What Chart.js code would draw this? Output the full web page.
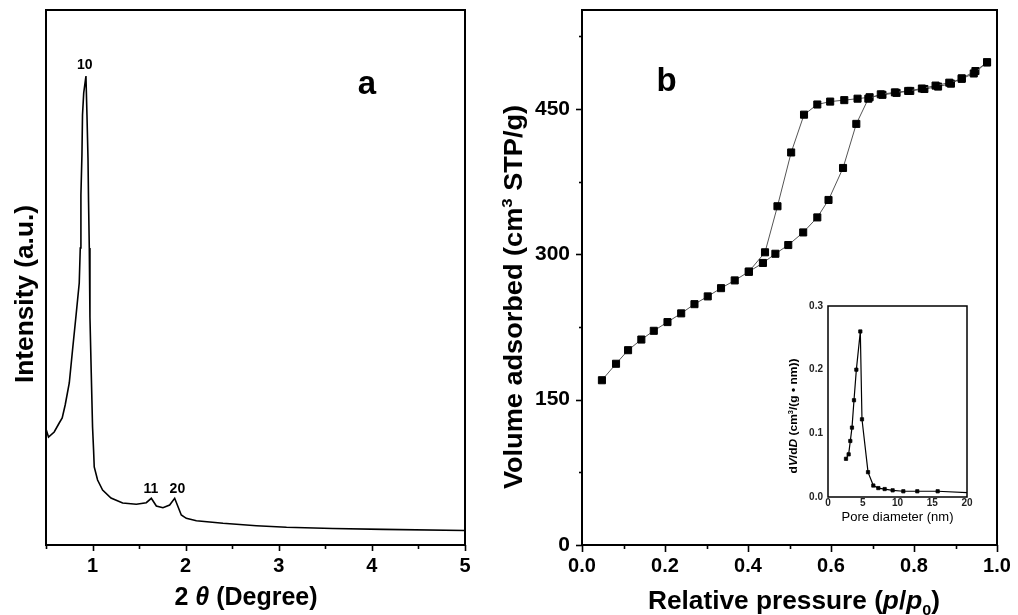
<!DOCTYPE html>
<html>
<head>
<meta charset="utf-8">
<script src="https://cdn.jsdelivr.net/npm/chart.js@4.4.0/dist/chart.umd.min.js"></script>
<style>
  html, body { margin: 0; padding: 0; background: #fff; }
  body { width: 1018px; height: 615px; position: relative; overflow: hidden; }
  .panel { position: absolute; }
  #boxA { left: 0; top: 0; width: 490px; height: 615px; }
  #boxB { left: 490px; top: 0; width: 528px; height: 615px; }
  #boxInset { left: 760px; top: 290px; width: 250px; height: 240px; }
</style>
</head>
<body>
<div class="panel" id="boxA"><canvas id="chartA" width="490" height="615"></canvas></div>
<div class="panel" id="boxB"><canvas id="chartB" width="528" height="615"></canvas></div>
<div class="panel" id="boxInset"><canvas id="chartInset" width="250" height="240"></canvas></div>
<script>
// ---- data ----

// (a) small-angle XRD
const xrdAngle = [0.5, 0.527, 0.588, 0.642, 0.674, 0.706, 0.75, 0.785, 0.821, 0.857, 0.868, 0.875, 0.886, 0.892, 0.905, 0.929,
  0.94, 0.951, 0.957, 0.965, 0.972, 0.986, 1.0, 1.011, 1.018, 1.054, 1.108, 1.198, 1.323, 1.47, 1.577, 1.631, 1.685,
  1.756, 1.828, 1.882, 1.918, 1.953, 2.007, 2.115, 2.401, 2.76, 3.083, 3.58, 4.12, 5.0];
const xrdIntensity = [116, 108, 113, 122, 127, 140, 162, 195, 228, 262, 297, 350, 390, 430, 452, 469,
  430, 387, 343, 297, 228, 172, 118, 95, 78, 65, 55, 47, 42, 40.7, 42.3, 46.7, 39,
  37.3, 40, 46.7, 38.3, 30, 26.7, 24.3, 21.7, 19.3, 17.7, 16.5, 15.6, 14.5];
const xrdPeakLabels = ['10', '11', '20'];
const xrdPeakAngle = [0.916, 1.626, 1.911];
const xrdPeakHeight = [480, 55.5, 55.5];

// (b) N2 isotherm
const adsP = [0.048, 0.082, 0.111, 0.143, 0.173, 0.206, 0.239, 0.271, 0.303, 0.335, 0.368, 0.402, 0.436, 0.466, 0.497,
  0.533, 0.567, 0.594, 0.629, 0.661, 0.690, 0.720, 0.754, 0.786, 0.819, 0.852, 0.885, 0.915, 0.944, 0.976];
const adsV = [170, 187, 201, 212, 221, 230, 239, 248.5, 256.5, 265, 273, 282, 291, 300.5, 309.5,
  322.5, 338, 356, 389, 434.5, 460.5, 465, 467, 468.5, 471, 474, 477, 481, 486.5, 498];
const desP = [0.976, 0.948, 0.915, 0.889, 0.858, 0.825, 0.791, 0.758, 0.724, 0.693, 0.664, 0.632, 0.598, 0.567,
  0.535, 0.504, 0.471, 0.441, 0.402];
const desV = [498, 489, 481.5, 476, 473, 470.5, 468.5, 466.5, 464.5, 462, 460.5, 459, 457.5, 454.5,
  444, 405, 349.5, 302, 282];

// inset: pore size distribution
const poreD = [2.59, 2.97, 3.21, 3.45, 3.74, 4.08, 4.65, 4.89, 5.76, 6.52, 7.24, 8.15, 9.30, 10.84, 12.85, 15.78, 20];
const dVdD = [0.060, 0.067, 0.088, 0.109, 0.152, 0.200, 0.260, 0.122, 0.039, 0.018, 0.014, 0.0125, 0.0105, 0.009, 0.009, 0.009, 0.007];

// ---- helpers ----
const FONT = "'Liberation Sans', Arial, Helvetica, sans-serif";
const toXY = (xs, ys) => xs.map((x, i) => ({ x: x, y: ys[i] }));

function fixSize(prop, size) {
  return function(scale) {
    scale[prop] = size;
    scale.paddingTop = 0; scale.paddingBottom = 0;
    scale.paddingLeft = 0; scale.paddingRight = 0;
  };
}

// frame around the plot area + outward major/minor tick marks
const frameTicks = {
  id: 'frameTicks',
  afterDatasetsDraw(chart, args, opts) {
    const { ctx, chartArea: a } = chart;
    ctx.save();
    ctx.strokeStyle = '#000';
    ctx.lineWidth = opts.width || 2;
    ctx.strokeRect(a.left, a.top, a.right - a.left, a.bottom - a.top);
    ctx.lineWidth = 1.6;
    (opts.axes || []).forEach(ax => {
      const sc = chart.scales[ax.id];
      sc.ticks.forEach(t => {
        const p = Math.round(sc.getPixelForValue(t.value)) + 0.5;
        const len = t.label !== '' ? ax.major : ax.minor;
        ctx.beginPath();
        if (sc.isHorizontal()) { ctx.moveTo(p, a.bottom); ctx.lineTo(p, a.bottom + len); }
        else { ctx.moveTo(a.left, p); ctx.lineTo(a.left - len, p); }
        ctx.stroke();
      });
    });
    ctx.restore();
  }
};

// free text (peak indices, panel letters)
const textMarks = {
  id: 'textMarks',
  afterDatasetsDraw(chart, args, opts) {
    const { ctx, chartArea: a } = chart;
    ctx.save();
    ctx.fillStyle = '#000';
    ctx.textAlign = 'center';
    ctx.textBaseline = 'middle';
    (opts.items || []).forEach(it => {
      ctx.font = it.font;
      let x, y;
      if (it.frac) {
        x = a.left + it.frac[0] * (a.right - a.left);
        y = a.top + it.frac[1] * (a.bottom - a.top);
      } else {
        x = chart.scales.x.getPixelForValue(it.x);
        y = chart.scales.y.getPixelForValue(it.y);
      }
      ctx.fillText(it.text, x, y);
    });
    ctx.restore();
  }
};

// axis titles with italic / superscript / subscript runs
const richTitles = {
  id: 'richTitles',
  afterDraw(chart, args, opts) {
    const ctx = chart.ctx;
    (opts.items || []).forEach(it => {
      const size = it.size;
      const fontOf = r => (r.italic ? 'italic ' : '') + 'bold ' + ((r.sup || r.sub) ? size * 0.62 : size) + 'px ' + FONT;
      ctx.save();
      let total = 0;
      it.runs.forEach(r => { ctx.font = fontOf(r); total += ctx.measureText(r.t).width; });
      ctx.translate(it.x, it.y);
      if (it.rotate) ctx.rotate(it.rotate);
      ctx.scale(it.stretch || 1, 1);
      ctx.fillStyle = '#000';
      ctx.textAlign = 'left';
      ctx.textBaseline = 'alphabetic';
      let cx = -total / 2;
      const base = size * 0.36;
      it.runs.forEach(r => {
        ctx.font = fontOf(r);
        const dy = r.sup ? -size * 0.4 : (r.sub ? size * 0.24 : 0);
        ctx.fillText(r.t, cx, base + dy);
        cx += ctx.measureText(r.t).width;
      });
      ctx.restore();
    });
  }
};

Chart.register(frameTicks, textMarks, richTitles);
Chart.defaults.font.family = FONT;
Chart.defaults.color = '#000';

const tickFont = { family: FONT, size: 20, weight: 'bold' };

// ---- (a) XRD ----
new Chart(document.getElementById('chartA'), {
  type: 'line',
  data: {
    datasets: [{
      data: toXY(xrdAngle, xrdIntensity),
      borderColor: '#000',
      borderWidth: 1.6,
      pointRadius: 0,
      tension: 0
    }]
  },
  options: {
    responsive: false,
    animation: false,
    layout: { padding: { left: 0, right: 25, top: 10, bottom: 0 } },
    plugins: {
      legend: { display: false },
      tooltip: { enabled: false },
      frameTicks: { axes: [{ id: 'x', major: 6, minor: 4 }] },
      textMarks: {
        items: xrdPeakLabels.map((t, i) => ({
          text: t, x: xrdPeakAngle[i], y: xrdPeakHeight[i], font: 'bold 14px ' + FONT
        })).concat([{ text: 'a', frac: [0.766, 0.14], font: 'bold 33px ' + FONT }])
      },
      richTitles: {
        items: [
          { x: 24, y: 294, size: 25, stretch: 1.05, rotate: -Math.PI / 2,
            runs: [{ t: 'Intensity (a.u.)' }] },
          { x: 246, y: 596, size: 25, stretch: 1,
            runs: [{ t: '2 ' }, { t: 'θ', italic: true }, { t: ' (Degree)' }] }
        ]
      }
    },
    scales: {
      x: {
        type: 'linear', min: 0.5, max: 5,
        border: { display: false },
        grid: { display: false, drawTicks: false },
        ticks: {
          stepSize: 0.5, autoSkip: false, maxRotation: 0, padding: 9, font: tickFont,
          callback: v => Number.isInteger(v) ? String(v) : ''
        },
        afterFit: fixSize('height', 70)
      },
      y: {
        min: 0, max: 535,
        border: { display: false },
        grid: { display: false, drawTicks: false },
        ticks: { display: false },
        afterFit: fixSize('width', 46)
      }
    }
  }
});

// ---- (b) isotherm ----
const isoStyle = {
  borderColor: '#555',
  borderWidth: 1,
  pointStyle: 'rect',
  pointRadius: 5,
  pointBackgroundColor: '#000',
  pointBorderColor: '#000',
  pointBorderWidth: 1,
  tension: 0
};

new Chart(document.getElementById('chartB'), {
  type: 'line',
  data: {
    datasets: [
      Object.assign({ label: 'Adsorption', data: toXY(adsP, adsV) }, isoStyle),
      Object.assign({ label: 'Desorption', data: toXY(desP, desV) }, isoStyle)
    ]
  },
  options: {
    responsive: false,
    animation: false,
    layout: { padding: { left: 0, right: 21, top: 10, bottom: 0 } },
    plugins: {
      legend: { display: false },
      tooltip: { enabled: false },
      frameTicks: { axes: [{ id: 'x', major: 7, minor: 4 }, { id: 'y', major: 6, minor: 3 }] },
      textMarks: { items: [{ text: 'b', frac: [0.204, 0.134], font: 'bold 33px ' + FONT }] },
      richTitles: {
        items: [
          { x: 23, y: 297, size: 25, stretch: 1.085, rotate: -Math.PI / 2,
            runs: [{ t: 'Volume adsorbed (cm' }, { t: '3', sup: true }, { t: ' STP/g)' }] },
          { x: 304, y: 600, size: 25, stretch: 1.05,
            runs: [{ t: 'Relative pressure (' }, { t: 'p', italic: true }, { t: '/' },
                   { t: 'p', italic: true }, { t: '0', sub: true }, { t: ')' }] }
        ]
      }
    },
    scales: {
      x: {
        type: 'linear', min: 0, max: 1,
        border: { display: false },
        grid: { display: false, drawTicks: false },
        ticks: {
          stepSize: 0.1, autoSkip: false, maxRotation: 0, padding: 9, font: tickFont,
          callback: v => Math.abs(v * 5 - Math.round(v * 5)) < 1e-6 ? v.toFixed(1) : ''
        },
        afterFit: fixSize('height', 70)
      },
      y: {
        min: 0, max: 552,
        border: { display: false },
        grid: { display: false, drawTicks: false },
        ticks: {
          stepSize: 75, includeBounds: false, autoSkip: false, padding: 12,
          font: { family: FONT, size: 21, weight: 'bold' },
          callback: v => v % 150 === 0 ? String(v) : ''
        },
        afterFit: fixSize('width', 92)
      }
    }
  }
});

// ---- inset: pore size distribution ----
const insetTick = { family: FONT, size: 10, weight: 'bold' };
new Chart(document.getElementById('chartInset'), {
  type: 'line',
  data: {
    datasets: [{
      data: toXY(poreD, dVdD),
      borderColor: '#000',
      borderWidth: 1.2,
      pointStyle: 'rect',
      pointRadius: ctx => ctx.dataIndex === poreD.length - 1 ? 0 : 2.3,
      pointBackgroundColor: '#000',
      pointBorderColor: '#000',
      pointBorderWidth: 0.8,
      tension: 0
    }]
  },
  options: {
    responsive: false,
    animation: false,
    layout: { padding: { left: 0, right: 43, top: 16, bottom: 0 } },
    plugins: {
      legend: { display: false },
      tooltip: { enabled: false },
      frameTicks: { width: 1.5, axes: [] },
      richTitles: {
        items: [
          { x: 33, y: 126, size: 11, stretch: 1.09, rotate: -Math.PI / 2,
            runs: [{ t: 'd' }, { t: 'V', italic: true }, { t: '/d' }, { t: 'D', italic: true },
                   { t: ' (cm' }, { t: '3', sup: true }, { t: '/(g • nm))' }] }
        ]
      }
    },
    scales: {
      x: {
        type: 'linear', min: 0, max: 20,
        border: { display: false },
        grid: { display: false, drawTicks: false },
        ticks: { stepSize: 5, autoSkip: false, maxRotation: 0, padding: 0, font: insetTick, color: '#222' },
        title: { display: true, text: 'Pore diameter (nm)', font: { family: FONT, size: 13 }, padding: { top: 0, bottom: 5 } },
        afterFit: fixSize('height', 33)
      },
      y: {
        min: 0, max: 0.3,
        border: { display: false },
        grid: { display: false, drawTicks: false },
        ticks: {
          stepSize: 0.1, autoSkip: false, padding: 5, font: insetTick, color: '#222',
          callback: v => v.toFixed(1)
        },
        afterFit: fixSize('width', 68)
      }
    }
  }
});
</script>
</body>
</html>
